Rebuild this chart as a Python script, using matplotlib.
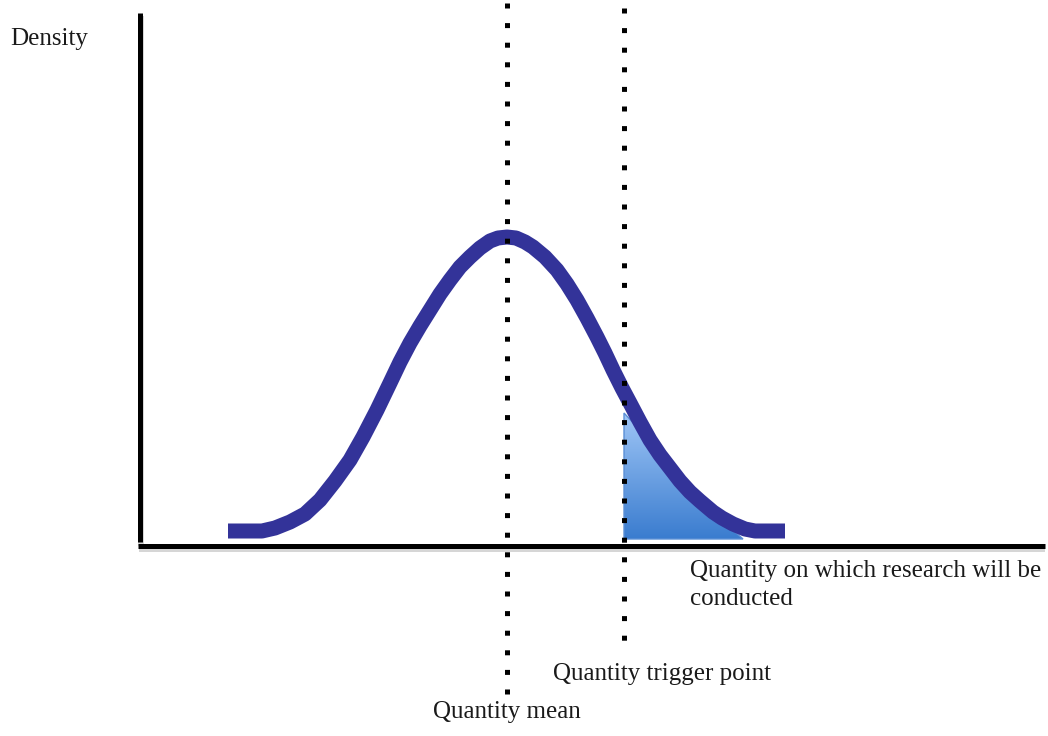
import numpy as np
import matplotlib
matplotlib.use("Agg")
import matplotlib.pyplot as plt
from matplotlib.patches import Polygon
from matplotlib.colors import LinearSegmentedColormap

# ---- data (diagram units: quantity along x, density above the x-axis) ----
quantity = [228, 262, 275, 290, 305, 320, 335, 350, 363, 377, 390, 400, 410,
            420, 430, 440, 450, 460, 470, 480, 490, 498, 507, 516, 525, 533,
            545, 557, 567, 577, 587, 597, 605, 613, 622, 630, 640, 650, 660,
            670, 680, 690, 700, 713, 722, 733, 745, 755, 785]
density = [14, 14, 17, 23, 31, 45, 64, 85, 108, 135, 162, 183, 202,
           219, 235, 251, 265, 278, 288, 297, 304, 307, 308, 307, 303, 298,
           288, 275, 261, 245, 227, 208, 192, 175, 157, 142, 123, 105, 90,
           77, 64, 53, 44, 33, 27, 21, 16, 14, 14]

shade_quantity = [624, 712, 725, 735, 743, 624]
shade_density = [132, 38, 23, 13, 6, 6]

mean_quantity = 507
trigger_quantity = 624

label_y = "Density"
label_x = ["Quantity on which research will be", "conducted"]
label_trigger = "Quantity trigger point"
label_mean = "Quantity mean"

# ---- figure ----
W, H = 1048, 736
fig = plt.figure(figsize=(W / 100, H / 100), dpi=100)
ax = fig.add_axes([0, 0, 1, 1])
base = 545  # pixel row of the x-axis
ax.axis("off")

px = 72 / 100  # points per pixel

# shaded tail with gradient
poly = Polygon(np.column_stack([shade_quantity, shade_density]), closed=True,
               facecolor="none", edgecolor="#5b8fd6", lw=1.0, zorder=3)
ax.add_patch(poly)
grad = np.linspace(0, 1, 256).reshape(-1, 1)
cmap = LinearSegmentedColormap.from_list("g", ["#3a7ccf", "#9fc6f6"])
im = ax.imshow(grad, cmap=cmap, aspect="auto", origin="lower",
               extent=[min(shade_quantity), max(shade_quantity),
                       min(shade_density), max(shade_density)], zorder=2)
im.set_clip_path(poly)

# density curve
ax.plot(quantity, density, color="#333399", lw=15 * px,
        solid_capstyle="butt", solid_joinstyle="round", zorder=4)

# dotted vertical lines
dot = 5 * px
period = 19.6 * px
pattern = (0, (1, period / dot - 1))
ax.plot([mean_quantity, mean_quantity], [base - 2.5, base - 694.5],
        color="black", lw=dot, ls=pattern, dash_capstyle="butt", zorder=5)
ax.plot([trigger_quantity, trigger_quantity], [base - 7.5, base - 643],
        color="black", lw=dot, ls=pattern, dash_capstyle="butt", zorder=5)

# axes lines with soft shadow
ax.plot([141, 141], [base - 543 - 3, base - 13 - 3], color="#bbbbbb", lw=6 * px,
        alpha=0.6, zorder=5, solid_capstyle="butt")
ax.plot([139, 1045], [-3.5, -3.5], color="#bbbbbb", lw=6 * px, alpha=0.6,
        zorder=5, solid_capstyle="butt")
ax.plot([140, 140], [base - 542, base - 13], color="black", lw=5 * px,
        zorder=6, solid_capstyle="butt")
ax.plot([138, 1045], [-0.5, -0.5], color="black", lw=5 * px, zorder=6,
        solid_capstyle="butt")

ax.set_xlim(0, W)
ax.set_ylim(base - H, base)

font = dict(family="Liberation Serif", fontsize=18, color="#1a1a1a")
ax.text(10, base - 45, label_y, ha="left", va="baseline", **font)
ax.text(690, base - 577, label_x[0], ha="left", va="baseline", **font)
ax.text(690, base - 605, label_x[1], ha="left", va="baseline", **font)
ax.text(553, base - 680, label_trigger, ha="left", va="baseline", **font)
ax.text(433, base - 718, label_mean, ha="left", va="baseline", **font)

fig.savefig("out.png", dpi=100)
